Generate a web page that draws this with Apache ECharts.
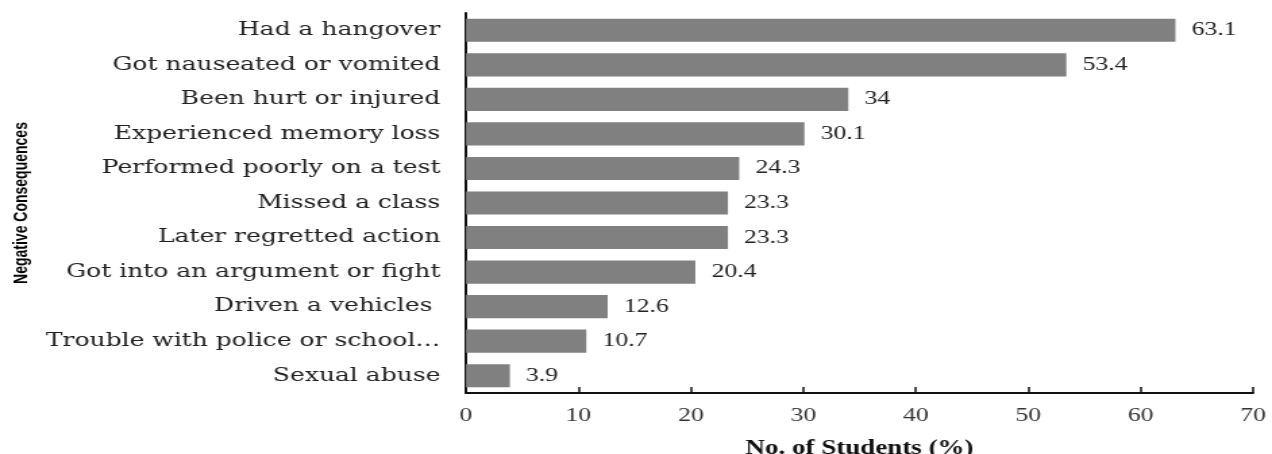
<!DOCTYPE html>
<html>
<head>
<meta charset="utf-8">
<script src="https://cdn.jsdelivr.net/npm/echarts@6/dist/echarts.min.js"></script>
<style>
  html,body{margin:0;padding:0;background:#fff;overflow:hidden;}
  /* 原图横向被拉伸，这里用 scaleX 还原 */
  #chart{width:942px;height:454px;transform:scaleX(1.35032);transform-origin:0 0;}
</style>
</head>
<body>
<div id="chart"></div>
<script>
// 分类（自上而下）
var categories = [
    'Had a hangover',
    'Got nauseated or vomited',
    'Been hurt or injured',
    'Experienced memory loss',
    'Performed poorly on a test',
    'Missed a class',
    'Later regretted action',
    'Got into an argument or fight',
    'Driven a vehicles ',
    'Trouble with police or school\u2026',
    'Sexual abuse'
];
// 学生百分比
var values = [63.1, 53.4, 34, 30.1, 24.3, 23.3, 23.3, 20.4, 12.6, 10.7, 3.9];
// x轴刻度
var xTicks = [0, 10, 20, 30, 40, 50, 60, 70];

var sx = 1.35032;   // 横向拉伸比例
var times = '"Liberation Serif", "Times New Roman", serif';
var wide = '"DejaVu Serif", "Liberation Serif", serif';

var mychart = echarts.init(document.getElementById('chart'));
var option = {
    backgroundColor: '#ffffff',
    animation: false,
    grid: {
        top: 13,
        left: 466 / sx,
        right: 19 / sx,
        bottom: 61,
        containLabel: false,
        outerBoundsMode: 'none'
    },
    xAxis: {
        type: 'value',
        min: xTicks[0],
        max: xTicks[xTicks.length - 1],
        interval: 10,
        name: 'No. of Students (%)',
        nameLocation: 'middle',
        nameGap: 46,
        nameTextStyle: {
            fontFamily: times,
            fontWeight: 'bold',
            fontSize: 20,
            color: '#111'
        },
        axisLine: { show: true, lineStyle: { color: '#111', width: 2 } },
        axisTick: { show: true, inside: true, length: 6, lineStyle: { color: '#111', width: 1.5 } },
        axisLabel: {
            fontFamily: times,
            fontSize: 19,
            color: '#333',
            margin: 14
        },
        splitLine: { show: false }
    },
    yAxis: {
        type: 'category',
        data: categories,
        inverse: true,
        name: 'Negative Consequences',
        nameLocation: 'middle',
        nameGap: 317,
        nameRotate: 90,
        nameTextStyle: {
            fontFamily: '"Liberation Sans", Arial, sans-serif',
            fontWeight: 'bold',
            fontSize: 14,
            color: '#000'
        },
        axisLine: { show: true, lineStyle: { color: '#111', width: 2 } },
        axisTick: { show: false },
        axisLabel: {
            fontFamily: wide,
            fontSize: 18.5,
            color: '#222',
            margin: 19
        }
    },
    series: [{
        type: 'bar',
        data: values,
        barCategoryGap: '33%',
        itemStyle: { color: '#808080' },
        label: {
            show: true,
            position: 'right',
            distance: 12,
            fontFamily: times,
            fontSize: 19,
            color: '#222'
        }
    }]
};
mychart.setOption(option);
</script>
</body>
</html>
